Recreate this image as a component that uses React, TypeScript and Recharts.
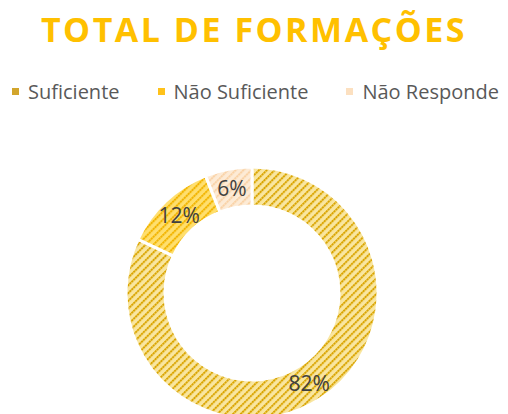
import { Pie, PieChart, Cell } from 'recharts'

const categories = ['Suficiente', 'Não Suficiente', 'Não Responde']
const values = [82, 12, 6]
const labels = ['82%', '12%', '6%']

const patterns = [
  { id: 'p-suf', bg: '#F9E6A0', fg: '#D9A400', key: '#D2A52C' },
  { id: 'p-nsuf', bg: '#FFDF6E', fg: '#F2B400', key: '#FFC21A' },
  { id: 'p-nresp', bg: '#FDEBD6', fg: '#F9D2A6', key: '#FCE0C0' },
]

const data = categories.map((name, i) => ({ name, value: values[i], label: labels[i] }))

const RAD = Math.PI / 180

function renderLabel(props: any) {
  const { cx, cy, midAngle, innerRadius, outerRadius, index } = props
  const r = (innerRadius + outerRadius) / 2
  const x = cx + r * Math.cos(-midAngle * RAD)
  const y = cy + r * Math.sin(-midAngle * RAD)
  return (
    <text x={x} y={y} textAnchor="middle" dominantBaseline="central" fill="#404040" fontSize={21} fontFamily="Open Sans">
      {data[index].label}
    </text>
  )
}

export default function App() {
  return (
    <div style={{ position: 'absolute', left: 0, top: 0, width: 508, height: 414, background: '#fff', fontFamily: 'Open Sans', overflow: 'hidden' }}>
      <div style={{ position: 'absolute', top: 6, left: 0, width: 508, textAlign: 'center', color: '#FFC000', fontWeight: 700, fontSize: 34, letterSpacing: 2.5 }}>
        TOTAL DE FORMAÇÕES
      </div>
      <div style={{ position: 'absolute', top: 78, left: 12, display: 'flex', gap: 38, color: '#595959', fontSize: 20 }}>
        {categories.map((c, i) => (
          <div key={c} style={{ display: 'flex', alignItems: 'center', gap: 9 }}>
            <svg width={7} height={7}>
              <rect width={7} height={7} fill={patterns[i].key} />
            </svg>
            <span>{c}</span>
          </div>
        ))}
      </div>
      <div style={{ position: 'absolute', left: 0, top: 0 }}>
        <PieChart width={508} height={414} margin={{ top: 0, right: 0, bottom: 0, left: 0 }}>
          <defs>
            {patterns.map((p) => (
              <pattern key={p.id} id={p.id} width={5.5} height={5.5} patternUnits="userSpaceOnUse" patternTransform="rotate(45)">
                <rect width={5.5} height={5.5} fill={p.bg} />
                <line x1={1} y1={0} x2={1} y2={5.5} stroke={p.fg} strokeWidth={2} strokeDasharray="2.2 0.55" />
              </pattern>
            ))}
          </defs>
          <Pie
            data={data}
            dataKey="value"
            nameKey="name"
            cx={252}
            cy={293}
            innerRadius={87}
            outerRadius={126}
            startAngle={90}
            endAngle={-270}
            stroke="#fff"
            strokeWidth={3}
            label={renderLabel}
            labelLine={false}
            isAnimationActive={false}
          >
            {data.map((d, i) => (
              <Cell key={d.name} fill={`url(#${patterns[i].id})`} />
            ))}
          </Pie>
        </PieChart>
      </div>
    </div>
  )
}
